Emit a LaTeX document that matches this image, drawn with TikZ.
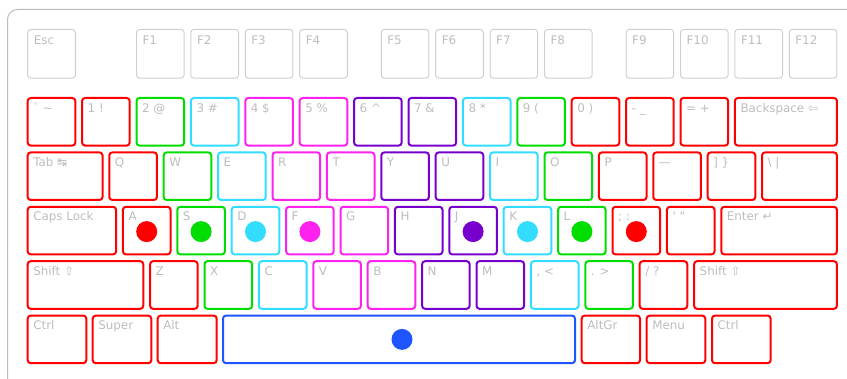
\documentclass[tikz,border=0pt]{standalone}
\usepackage{fontspec}
\newfontfamily\keyfont{DejaVu Sans}
\definecolor{kred}{HTML}{FF0000}
\definecolor{kgreen}{HTML}{00DD00}
\definecolor{kcyan}{HTML}{33DDFF}
\definecolor{kmag}{HTML}{FF22EE}
\definecolor{kpur}{HTML}{7700CC}
\definecolor{kblue}{HTML}{1F55FF}
\definecolor{ktext}{HTML}{BDBDBD}
\definecolor{kfn}{HTML}{D0D0D0}
\definecolor{kcase}{HTML}{BBBBBB}
\tikzset{
  keyc/.style={rectangle, draw=#1, line width=2pt, rounded corners=3pt, inner sep=0pt, minimum height=47.6pt},
  fkey/.style={rectangle, draw=kfn, line width=1pt, rounded corners=3pt, inner sep=0pt, minimum height=48.6pt},
  lbl/.style={inner sep=0pt, text=ktext, font=\keyfont\fontsize{11.9}{14}\selectfont},
  dot/.style={circle, fill=#1, inner sep=0pt, minimum size=21pt},
}
% #1 name, #2 unit position, #3 top px, #4 width units, #5 style, #6 label
\newcommand\ku[6]{%
  \node[#5, minimum width={54.4*#4-6.8}] (k#1) at ({26.7+54.4*#2+(54.4*#4-4.8)/2},{#3+24.8}) {};
  \node[lbl, anchor=base west] (t#1) at ([shift={(6.4pt,-15.2pt)}]k#1.north west) {#6};}
% #1 name, #2 left px, #3 right px, #4 top px, #5 style, #6 label
\newcommand\kp[6]{%
  \node[#5, minimum width={#3-#2-2}] (k#1) at ({(#2+#3)/2},{#4+24.8}) {};
  \node[lbl, anchor=base west] (t#1) at ([shift={(6.4pt,-15.2pt)}]k#1.north west) {#6};}
\begin{document}
\begin{tikzpicture}[x=1pt,y=-1pt]
\useasboundingbox (0,0) rectangle (847,379);
\clip (0,0) rectangle (847,379);
\draw[kcase, line width=1pt, rounded corners=10pt] (7.5,9.5) rectangle (880,388);
% function row
\ku{esc}{0}{29}{1}{fkey}{Esc}
\ku{f1}{2}{29}{1}{fkey}{F1}
\ku{f2}{3}{29}{1}{fkey}{F2}
\ku{f3}{4}{29}{1}{fkey}{F3}
\ku{f4}{5}{29}{1}{fkey}{F4}
\ku{f5}{6.5}{29}{1}{fkey}{F5}
\ku{f6}{7.5}{29}{1}{fkey}{F6}
\ku{f7}{8.5}{29}{1}{fkey}{F7}
\ku{f8}{9.5}{29}{1}{fkey}{F8}
\ku{f9}{11}{29}{1}{fkey}{F9}
\ku{f10}{12}{29}{1}{fkey}{F10}
\ku{f11}{13}{29}{1}{fkey}{F11}
\ku{f12}{14}{29}{1}{fkey}{F12}
% number row
\ku{grave}{0}{97}{1}{keyc=kred}{\symbol{"60} \textasciitilde}
\ku{n1}{1}{97}{1}{keyc=kred}{1 !}
\ku{n2}{2}{97}{1}{keyc=kgreen}{2 @}
\ku{n3}{3}{97}{1}{keyc=kcyan}{3 \#}
\ku{n4}{4}{97}{1}{keyc=kmag}{4 \$}
\ku{n5}{5}{97}{1}{keyc=kmag}{5 \%}
\ku{n6}{6}{97}{1}{keyc=kpur}{6 \textasciicircum}
\ku{n7}{7}{97}{1}{keyc=kpur}{7 \&}
\ku{n8}{8}{97}{1}{keyc=kcyan}{8 *}
\ku{n9}{9}{97}{1}{keyc=kgreen}{9 (}
\ku{n0}{10}{97}{1}{keyc=kred}{0 )}
\ku{minus}{11}{97}{1}{keyc=kred}{- \_}
\ku{equal}{12}{97}{1}{keyc=kred}{= +}
\ku{bksp}{13}{97}{2}{keyc=kred}{Backspace ⇦}
% top letter row
\ku{tab}{0}{151.4}{1.5}{keyc=kred}{Tab ↹}
\ku{q}{1.5}{151.4}{1}{keyc=kred}{Q}
\ku{w}{2.5}{151.4}{1}{keyc=kgreen}{W}
\ku{e}{3.5}{151.4}{1}{keyc=kcyan}{E}
\ku{r}{4.5}{151.4}{1}{keyc=kmag}{R}
\ku{t}{5.5}{151.4}{1}{keyc=kmag}{T}
\ku{y}{6.5}{151.4}{1}{keyc=kpur}{Y}
\ku{u}{7.5}{151.4}{1}{keyc=kpur}{U}
\ku{i}{8.5}{151.4}{1}{keyc=kcyan}{I}
\ku{o}{9.5}{151.4}{1}{keyc=kgreen}{O}
\ku{p}{10.5}{151.4}{1}{keyc=kred}{P}
\ku{lbr}{11.5}{151.4}{1}{keyc=kred}{—}
\ku{rbr}{12.5}{151.4}{1}{keyc=kred}{] \}}
\ku{bsl}{13.5}{151.4}{1.5}{keyc=kred}{\textbackslash{} |}
% home row
\ku{caps}{0}{205.8}{1.75}{keyc=kred}{Caps Lock}
\ku{a}{1.75}{205.8}{1}{keyc=kred}{A}
\ku{s}{2.75}{205.8}{1}{keyc=kgreen}{S}
\ku{d}{3.75}{205.8}{1}{keyc=kcyan}{D}
\ku{f}{4.75}{205.8}{1}{keyc=kmag}{F}
\ku{g}{5.75}{205.8}{1}{keyc=kmag}{G}
\ku{h}{6.75}{205.8}{1}{keyc=kpur}{H}
\ku{j}{7.75}{205.8}{1}{keyc=kpur}{J}
\ku{k}{8.75}{205.8}{1}{keyc=kcyan}{K}
\ku{l}{9.75}{205.8}{1}{keyc=kgreen}{L}
\ku{semi}{10.75}{205.8}{1}{keyc=kred}{; :}
\ku{quote}{11.75}{205.8}{1}{keyc=kred}{\symbol{"27} \symbol{"22}}
\ku{enter}{12.75}{205.8}{2.25}{keyc=kred}{Enter ↵}
% bottom letter row
\ku{lshift}{0}{260.2}{2.25}{keyc=kred}{Shift ⇧}
\ku{z}{2.25}{260.2}{1}{keyc=kred}{Z}
\ku{x}{3.25}{260.2}{1}{keyc=kgreen}{X}
\ku{c}{4.25}{260.2}{1}{keyc=kcyan}{C}
\ku{v}{5.25}{260.2}{1}{keyc=kmag}{V}
\ku{b}{6.25}{260.2}{1}{keyc=kmag}{B}
\ku{n}{7.25}{260.2}{1}{keyc=kpur}{N}
\ku{m}{8.25}{260.2}{1}{keyc=kpur}{M}
\ku{comma}{9.25}{260.2}{1}{keyc=kcyan}{, <}
\ku{period}{10.25}{260.2}{1}{keyc=kgreen}{. >}
\ku{slash}{11.25}{260.2}{1}{keyc=kred}{/ ?}
\ku{rshift}{12.25}{260.2}{2.75}{keyc=kred}{Shift ⇧}
% modifier row
\kp{lctrl}{26.7}{87.3}{314.6}{keyc=kred}{Ctrl}
\kp{super}{91.7}{152.3}{314.6}{keyc=kred}{Super}
\kp{alt}{156.7}{217.7}{314.6}{keyc=kred}{Alt}
\kp{space}{222}{576}{314.6}{keyc=kblue}{}
\kp{altgr}{580.7}{641}{314.6}{keyc=kred}{AltGr}
\kp{menu}{645.7}{706.3}{314.6}{keyc=kred}{Menu}
\kp{rctrl}{711}{771.7}{314.6}{keyc=kred}{Ctrl}
% home-row dots
\node[dot=kred] (da) at ([yshift=-1pt]ka.center) {};
\node[dot=kgreen] (ds) at ([yshift=-1pt]ks.center) {};
\node[dot=kcyan] (dd) at ([yshift=-1pt]kd.center) {};
\node[dot=kmag] (df) at ([yshift=-1pt]kf.center) {};
\node[dot=kpur] (dj) at ([yshift=-1pt]kj.center) {};
\node[dot=kcyan] (dk) at ([yshift=-1pt]kk.center) {};
\node[dot=kgreen] (dl) at ([yshift=-1pt]kl.center) {};
\node[dot=kred] (dsemi) at ([yshift=-1pt]ksemi.center) {};
\node[dot=kblue] (dspace) at ([xshift=3pt]kspace.center) {};
\end{tikzpicture}
\end{document}
